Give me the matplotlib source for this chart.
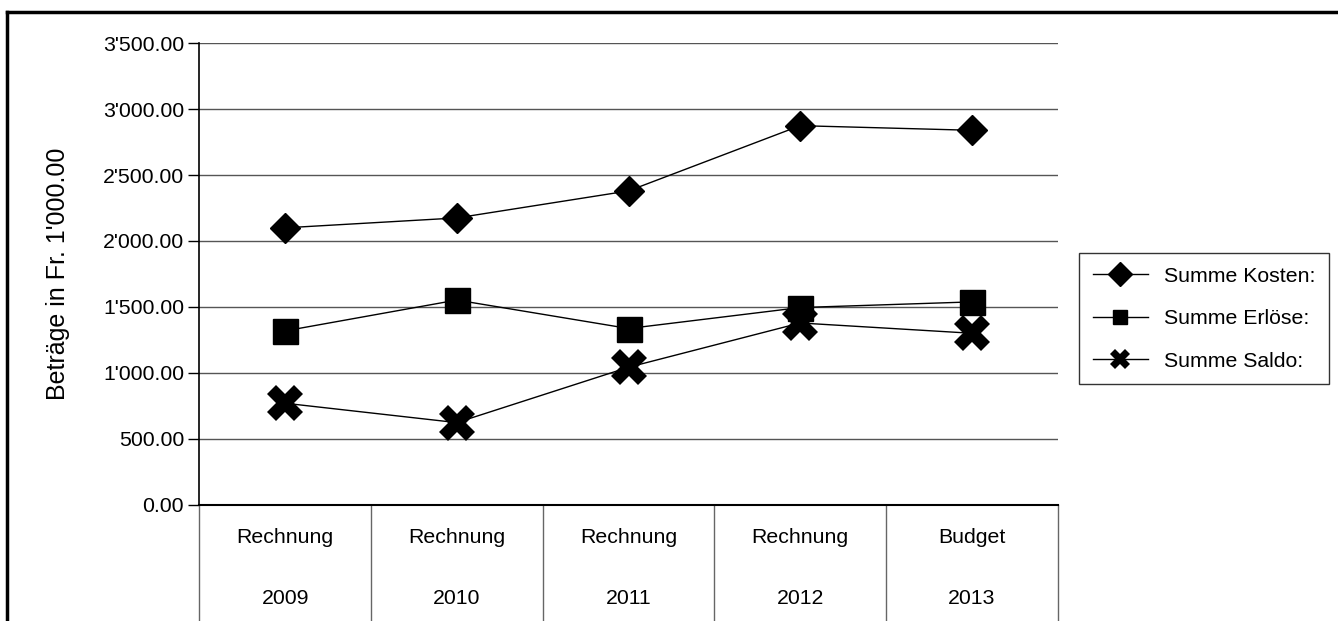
import matplotlib
matplotlib.use("Agg")
import matplotlib.pyplot as plt
from matplotlib.lines import Line2D
from matplotlib.ticker import FuncFormatter

plt.rcParams['font.family'] = ['Liberation Sans', 'DejaVu Sans']

row1 = ["Rechnung", "Rechnung", "Rechnung", "Rechnung", "Budget"]
row2 = ["2009", "2010", "2011", "2012", "2013"]
kosten = [2100, 2175, 2380, 2875, 2840]
erloese = [1318, 1552, 1336, 1495, 1538]
saldo = [769, 622, 1042, 1378, 1300]
series_names = ["Summe Kosten:", "Summe Erlöse:", "Summe Saldo:"]
yticks = [0, 500, 1000, 1500, 2000, 2500, 3000, 3500]

W, H = 1338, 621
fig = plt.figure(figsize=(W / 100, H / 100), dpi=100)
ax = fig.add_axes([199.3 / W, 1 - 504.6 / H, (1057.7 - 199.3) / W, (504.6 - 43.3) / H])

x = list(range(len(row1)))
fs = 15.3
ax.plot(x, kosten, color='black', lw=1, marker='D', ms=15, zorder=3)
ax.plot(x, erloese, color='black', lw=1, marker='s', ms=18, zorder=3)
ax.plot(x, saldo, color='black', lw=1, marker='X', ms=26, mew=0, zorder=4)

ax.set_xlim(-0.5, len(row1) - 0.5)
ax.set_ylim(0, 3500)
ax.set_yticks(yticks)
ax.yaxis.set_major_formatter(FuncFormatter(lambda v, p: f"{v:,.2f}".replace(",", "'")))
ax.tick_params(axis='y', direction='out', length=8, width=1, labelsize=fs, pad=3, color='black')
ax.set_xticks([])
for v in yticks[1:]:
    ax.axhline(v, color='#555555', lw=1, zorder=1)
for s in ['top', 'right']:
    ax.spines[s].set_visible(False)
ax.spines['left'].set_linewidth(1.2)
ax.spines['bottom'].set_linewidth(1.5)
ax.set_ylabel("Beträge in Fr. 1'000.00", fontsize=18, labelpad=24)

# category table below axis
trans = ax.get_xaxis_transform()
for k in range(len(row1) + 1):
    xb = k - 0.5
    ax.plot([xb, xb], [0, -0.27], transform=trans, color='#666666', lw=1, clip_on=False)
for i in x:
    ax.text(i, -0.072, row1[i], transform=trans, ha='center', va='center', fontsize=fs)
    ax.text(i, -0.204, row2[i], transform=trans, ha='center', va='center', fontsize=fs)

# legend
handles = [
    Line2D([], [], color='black', lw=1, marker='D', ms=12),
    Line2D([], [], color='black', lw=1, marker='s', ms=10),
    Line2D([], [], color='black', lw=1, marker='X', ms=14, mew=0),
]
leg = fig.legend(handles, series_names, loc='upper left',
                 bbox_to_anchor=(1079 / W, 1 - 253 / H), fontsize=fs,
                 frameon=True, fancybox=False, edgecolor='black',
                 handlelength=2.6, handletextpad=0.75, labelspacing=1.1,
                 borderpad=0.65, borderaxespad=0)
leg.get_frame().set_linewidth(1)

# outer frame
fig.add_artist(Line2D([7 / W, 7 / W], [0, 1 - 12 / H], transform=fig.transFigure, color='black', lw=2.5))
fig.add_artist(Line2D([7 / W, 1], [1 - 12 / H, 1 - 12 / H], transform=fig.transFigure, color='black', lw=2.5))

fig.savefig("out.png", dpi=100)
